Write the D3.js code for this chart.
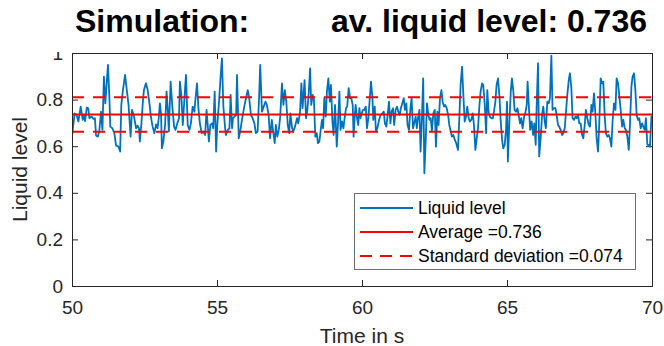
<!DOCTYPE html>
<html>
<head>
<meta charset="utf-8">
<script src="https://cdn.jsdelivr.net/npm/d3@7"></script>
<style>
  body { margin: 0; background: #fff; }
  text { font-family: "Liberation Sans", Arial, Helvetica, sans-serif; }
</style>
</head>
<body>
<svg id="chart" width="664" height="346"></svg>
<script>
// time in s, liquid level
var liquidLevel = [
  [50.00,0.641],[50.09,0.741],[50.16,0.734],[50.22,0.706],[50.30,0.770],[50.37,0.713],[50.41,0.734],[50.45,0.708],
  [50.51,0.766],[50.56,0.763],[50.60,0.720],[50.68,0.727],[50.74,0.717],[50.79,0.720],[50.83,0.646],[50.89,0.641],
  [50.94,0.663],[51.00,0.748],[51.05,0.670],[51.10,0.899],[51.15,0.784],[51.20,0.877],[51.24,0.949],[51.29,0.806],
  [51.32,0.684],[51.39,0.677],[51.46,0.656],[51.52,0.603],[51.60,0.598],[51.66,0.577],[51.70,0.777],[51.75,0.834],
  [51.83,0.906],[51.89,0.841],[51.95,0.777],[52.02,0.641],[52.07,0.756],[52.14,0.727],[52.21,0.677],[52.26,0.688],
  [52.31,0.677],[52.34,0.620],[52.39,0.691],[52.44,0.784],[52.48,0.841],[52.55,0.870],[52.61,0.841],[52.67,0.784],
  [52.72,0.727],[52.78,0.684],[52.84,0.656],[52.90,0.694],[52.95,0.677],[52.99,0.720],[53.03,0.784],[53.07,0.741],
  [53.10,0.591],[53.15,0.620],[53.21,0.691],[53.26,0.834],[53.30,0.763],[53.34,0.663],[53.40,0.877],[53.46,0.770],
  [53.52,0.684],[53.57,0.670],[53.63,0.698],[53.69,0.720],[53.72,0.877],[53.77,0.820],[53.82,0.691],[53.87,0.791],
  [53.93,0.906],[53.99,0.691],[54.05,0.670],[54.10,0.698],[54.16,0.770],[54.22,0.748],[54.25,0.791],[54.31,0.870],
  [54.36,0.763],[54.41,0.698],[54.47,0.656],[54.53,0.663],[54.59,0.648],[54.64,0.756],[54.68,0.691],[54.72,0.620],
  [54.77,0.691],[54.83,0.698],[54.87,0.677],[54.92,0.834],[54.97,0.577],[55.01,0.691],[55.07,0.791],[55.12,0.891],
  [55.17,0.977],[55.22,0.770],[55.28,0.677],[55.31,0.648],[55.37,0.670],[55.43,0.677],[55.47,0.820],[55.52,0.677],
  [55.55,0.720],[55.60,0.727],[55.66,0.734],[55.69,0.906],[55.75,0.634],[55.80,0.663],[55.86,0.713],[55.94,0.770],
  [56.00,0.806],[56.06,0.841],[56.11,0.806],[56.17,0.734],[56.23,0.720],[56.29,0.698],[56.34,0.656],[56.40,0.663],
  [56.45,0.806],[56.49,0.949],[56.55,0.748],[56.61,0.770],[56.67,0.791],[56.72,0.777],[56.78,0.734],[56.83,0.634],
  [56.89,0.713],[56.93,0.670],[56.99,0.613],[57.03,0.691],[57.08,0.641],[57.13,0.670],[57.18,0.727],[57.24,0.870],
  [57.29,0.777],[57.34,0.841],[57.39,0.791],[57.44,0.691],[57.49,0.656],[57.53,0.741],[57.59,0.677],[57.63,0.663],
  [57.69,0.684],[57.76,0.720],[57.80,0.698],[57.86,0.741],[57.91,0.870],[57.95,0.763],[58.02,0.884],[58.07,0.720],
  [58.11,0.748],[58.16,0.820],[58.21,0.934],[58.25,0.777],[58.30,0.820],[58.34,0.806],[58.39,0.641],[58.44,0.656],
  [58.48,0.613],[58.53,0.620],[58.57,0.663],[58.62,0.713],[58.66,0.677],[58.70,0.806],[58.75,0.727],[58.79,0.834],
  [58.84,0.891],[58.89,0.791],[58.93,0.863],[58.98,0.706],[59.02,0.648],[59.07,0.777],[59.13,0.598],[59.17,0.691],
  [59.22,0.834],[59.26,0.670],[59.31,0.706],[59.36,0.677],[59.40,0.720],[59.45,0.763],[59.49,0.770],[59.54,0.849],
  [59.59,0.806],[59.63,0.806],[59.68,0.777],[59.71,0.641],[59.75,0.727],[59.78,0.777],[59.83,0.720],[59.87,0.691],
  [59.91,0.763],[59.95,0.720],[59.99,0.741],[60.03,0.756],[60.08,0.756],[60.13,0.770],[60.17,0.677],[60.22,0.720],
  [60.26,0.791],[60.31,0.877],[60.36,0.806],[60.39,0.713],[60.44,0.770],[60.48,0.663],[60.53,0.677],[60.59,0.713],
  [60.64,0.734],[60.70,0.741],[60.75,0.748],[60.79,0.698],[60.84,0.684],[60.89,0.741],[60.93,0.791],[60.98,0.698],
  [61.02,0.748],[61.07,0.763],[61.11,0.691],[61.16,0.756],[61.21,0.770],[61.25,0.748],[61.30,0.734],[61.34,0.763],
  [61.39,0.784],[61.44,0.806],[61.48,0.756],[61.53,0.784],[61.57,0.691],[61.62,0.670],[61.67,0.763],[61.71,0.806],
  [61.76,0.677],[61.80,0.698],[61.85,0.727],[61.89,0.677],[61.93,0.720],[61.98,0.756],[62.02,0.577],[62.07,0.734],
  [62.11,0.891],[62.15,0.484],[62.20,0.634],[62.24,0.784],[62.29,0.734],[62.33,0.713],[62.37,0.720],[62.41,0.663],
  [62.46,0.741],[62.51,0.756],[62.55,0.598],[62.60,0.748],[62.64,0.691],[62.69,0.806],[62.74,0.841],[62.78,0.791],
  [62.83,0.770],[62.87,0.777],[62.92,0.763],[62.97,0.734],[63.01,0.691],[63.06,0.663],[63.10,0.641],[63.15,0.648],
  [63.20,0.627],[63.25,0.613],[63.31,0.584],[63.36,0.734],[63.40,0.863],[63.45,0.941],[63.49,0.834],[63.54,0.706],
  [63.59,0.727],[63.63,0.770],[63.68,0.720],[63.72,0.706],[63.77,0.713],[63.82,0.741],[63.86,0.691],[63.91,0.584],
  [63.95,0.627],[64.00,0.677],[64.05,0.777],[64.09,0.834],[64.14,0.870],[64.18,0.863],[64.23,0.784],[64.28,0.656],
  [64.32,0.841],[64.37,0.741],[64.41,0.727],[64.46,0.720],[64.51,0.720],[64.55,0.748],[64.60,0.791],[64.64,0.863],
  [64.69,0.891],[64.74,0.813],[64.78,0.713],[64.83,0.627],[64.87,0.591],[64.92,0.606],[64.97,0.677],[65.00,0.791],
  [65.03,0.534],[65.08,0.698],[65.13,0.834],[65.17,0.891],[65.22,0.834],[65.26,0.756],[65.31,0.748],[65.36,0.763],
  [65.40,0.734],[65.45,0.698],[65.49,0.720],[65.54,0.677],[65.59,0.727],[65.63,0.741],[65.68,0.777],[65.71,0.877],
  [65.76,0.756],[65.80,0.670],[65.85,0.706],[65.90,0.648],[65.94,0.698],[65.99,0.606],[66.02,0.763],[66.07,0.956],
  [66.11,0.556],[66.16,0.634],[66.21,0.734],[66.25,0.770],[66.30,0.706],[66.34,0.677],[66.39,0.791],[66.44,0.784],
  [66.48,0.806],[66.53,0.989],[66.57,0.756],[66.62,0.763],[66.67,0.763],[66.71,0.734],[66.76,0.691],[66.80,0.684],
  [66.85,0.670],[66.90,0.648],[66.94,0.656],[66.99,0.677],[67.03,0.741],[67.08,0.820],[67.13,0.884],[67.17,0.913],
  [67.22,0.849],[67.26,0.720],[67.31,0.713],[67.36,0.727],[67.40,0.720],[67.45,0.734],[67.49,0.698],[67.54,0.698],
  [67.59,0.648],[67.63,0.634],[67.68,0.691],[67.72,0.756],[67.77,0.720],[67.82,0.691],[67.86,0.684],[67.91,0.777],
  [67.95,0.748],[68.00,0.827],[68.05,0.734],[68.09,0.634],[68.14,0.577],[68.18,0.691],[68.23,0.891],[68.28,0.870],
  [68.32,0.877],[68.37,0.727],[68.41,0.656],[68.46,0.641],[68.51,0.648],[68.55,0.634],[68.60,0.598],[68.64,0.706],
  [68.69,0.784],[68.74,0.756],[68.78,0.891],[68.83,0.870],[68.87,0.820],[68.92,0.756],[68.97,0.684],[69.01,0.713],
  [69.06,0.677],[69.10,0.670],[69.15,0.641],[69.20,0.584],[69.24,0.691],[69.29,0.856],[69.33,0.899],[69.38,0.913],
  [69.43,0.834],[69.47,0.734],[69.52,0.713],[69.56,0.720],[69.61,0.677],[69.66,0.698],[69.70,0.684],[69.75,0.670],
  [69.79,0.720],[69.84,0.606],[69.89,0.606],[69.93,0.598],[69.98,0.727],[70.00,0.730]
];
var average = 0.736;
var stdDev = 0.074;

var xTicks = [50, 55, 60, 65, 70];
var yTicks = [0, 0.2, 0.4, 0.6, 0.8, 1];
var legendLabels = ["Liquid level", "Average =0.736", "Standard deviation =0.074"];
var titleLeft = "Simulation:";
var titleRight = "av. liquid level: 0.736";

var margin = {top: 53, right: 12, bottom: 60, left: 72},
    width = 664 - margin.left - margin.right,
    height = 346 - margin.top - margin.bottom;

var blue = "#0072BD", red = "#FF0000", axisColor = "#262626";

var root = d3.select("#chart");
var svg = root.append("g")
    .attr("transform", "translate(" + margin.left + "," + margin.top + ")");

var x = d3.scaleLinear().domain([50, 70]).range([0, width]);
var y = d3.scaleLinear().domain([0, 1]).range([height, 0]);

function styleAxis(g) {
    g.select(".domain").remove();
    g.selectAll("line").attr("stroke", axisColor);
    g.selectAll("text").attr("fill", axisColor).style("font-size", "19px");
}

// axes, ticks pointing inwards like matlab
svg.append("g")
    .attr("transform", "translate(0," + height + ")")
    .call(d3.axisBottom(x).tickValues(xTicks).tickSize(-6).tickPadding(15))
    .call(styleAxis);
svg.append("g")
    .call(d3.axisTop(x).tickValues(xTicks).tickSize(-6).tickFormat(""))
    .call(styleAxis);
svg.append("g")
    .call(d3.axisLeft(y).tickValues(yTicks).tickSize(-6).tickPadding(9).tickFormat(d3.format("~g")))
    .call(styleAxis);
svg.append("g")
    .attr("transform", "translate(" + width + ",0)")
    .call(d3.axisRight(y).tickValues(yTicks).tickSize(-6).tickFormat(""))
    .call(styleAxis);

// white strip behind the title (cuts the top of the "1" label)
root.append("rect")
    .attr("x", 0).attr("y", 0)
    .attr("width", margin.left - 2).attr("height", margin.top - 1)
    .attr("fill", "#fff");

svg.append("clipPath").attr("id", "plotClip")
  .append("rect").attr("width", width).attr("height", height);

var line = d3.line()
    .x(function(d) { return x(d[0]); })
    .y(function(d) { return y(d[1]); });

var plot = svg.append("g").attr("clip-path", "url(#plotClip)");

plot.append("path")
    .datum(liquidLevel)
    .attr("d", line)
    .attr("fill", "none")
    .attr("stroke", blue)
    .attr("stroke-width", 1.8)
    .attr("stroke-linejoin", "round");

plot.append("line")
    .attr("x1", x(50)).attr("x2", x(70))
    .attr("y1", y(average)).attr("y2", y(average))
    .attr("stroke", red).attr("stroke-width", 2);

[average + stdDev, average - stdDev].forEach(function(v) {
    plot.append("line")
        .attr("x1", x(50)).attr("x2", x(70))
        .attr("y1", y(v)).attr("y2", y(v))
        .attr("stroke", red).attr("stroke-width", 2)
        .attr("stroke-dasharray", "12,9");
});

// box
svg.append("rect")
    .attr("x", 0.5).attr("y", 0.5)
    .attr("width", width).attr("height", height)
    .attr("fill", "none").attr("stroke", axisColor).attr("stroke-width", 1);

// axis labels
root.append("text")
    .attr("x", margin.left + width / 2).attr("y", 343)
    .attr("text-anchor", "middle")
    .style("font-size", "21px").attr("fill", axisColor)
    .text("Time in s");

root.append("text")
    .attr("transform", "translate(27," + (margin.top + height / 2) + ") rotate(-90)")
    .attr("text-anchor", "middle")
    .style("font-size", "21px").attr("fill", axisColor)
    .text("Liquid level");

// title
root.append("text")
    .attr("x", 75).attr("y", 32)
    .style("font-size", "32px").style("font-weight", "bold")
    .text(titleLeft);
root.append("text")
    .attr("x", 647).attr("y", 32)
    .attr("text-anchor", "end")
    .style("font-size", "32px").style("font-weight", "bold")
    .text(titleRight);

// legend
var legend = root.append("g").attr("transform", "translate(354,193)");
legend.append("rect")
    .attr("x", 0.5).attr("y", 0.5)
    .attr("width", 281).attr("height", 76)
    .attr("fill", "#fff").attr("stroke", "#6e6e6e").attr("stroke-width", 1);

var legendStyles = [
    {color: blue, dash: null},
    {color: red, dash: null},
    {color: red, dash: "12,8"}
];

legend.selectAll(".entry")
    .data(legendLabels)
    .enter()
    .append("g")
    .attr("class", "entry")
    .attr("transform", function(d, i) { return "translate(0," + (15 + i * 24) + ")"; })
    .each(function(d, i) {
        var g = d3.select(this);
        g.append("line")
            .attr("x1", 6).attr("x2", 59)
            .attr("stroke", legendStyles[i].color)
            .attr("stroke-width", i == 0 ? 1.8 : 2)
            .attr("stroke-dasharray", legendStyles[i].dash);
        g.append("text")
            .attr("x", 64).attr("dy", "0.35em")
            .style("font-size", "17.5px")
            .attr("fill", "#000")
            .text(d);
    });
</script>
</body>
</html>
